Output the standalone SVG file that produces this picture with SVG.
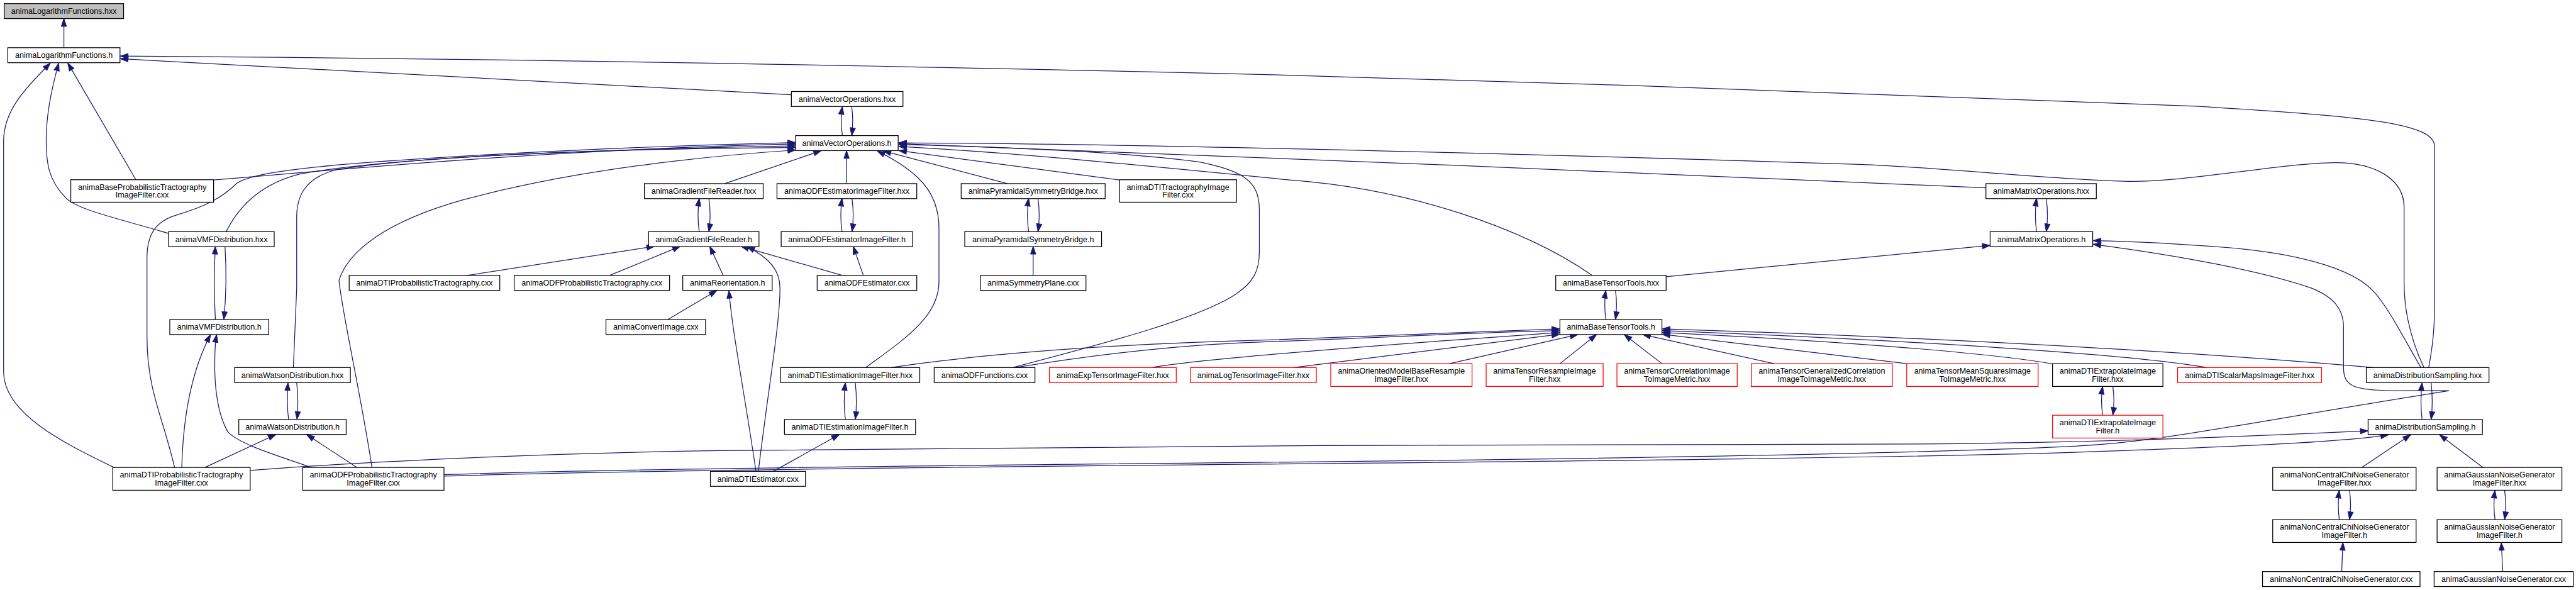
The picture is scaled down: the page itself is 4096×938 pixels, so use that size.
<svg xmlns="http://www.w3.org/2000/svg" width="4096" height="938" viewBox="0 0 4096 938">
<style>
.n rect{fill:#fff;stroke:#000;stroke-width:1.3}
.n.r rect{stroke:#ff0000}
.n.g rect{fill:#bfbfbf}
text{font-family:"Liberation Sans",Arial,Helvetica,sans-serif;font-size:13.2px;text-anchor:middle;fill:#000}
#edges path{fill:none;stroke:#191970;stroke-width:1.3;marker-end:url(#a)}
</style>
<defs>
<marker id="a" markerWidth="13" markerHeight="9" refX="13" refY="4.5" orient="auto" markerUnits="userSpaceOnUse" overflow="visible"><path d="M0,0 L13,4.5 L0,9 z" fill="#191970" stroke="#191970" stroke-width="1"/></marker>
</defs>
<rect width="4096" height="938" fill="#fff"/>
<g transform="scale(0.954)">
<g id="edges">
<path d="M106.5,79.5 L106.5,31"/>
<path d="M1319,158 L200.5,98"/>
<path d="M4048,612.5 C4054,580 4058,550 4058,500 L4058,245 C4058,205 3950,195 3660,177 C3300,160 2600,138 2100,124 C1500,110 800,97 200.5,93.5"/>
<path d="M226.5,299.5 L113,105"/>
<path d="M281,389 C200,365 130,350 110,330 C80,300 77,270 77,233 C77,190 88,140 98,105"/>
<path d="M190,779 C110,740 6,690 6,620 L6,235 C6,180 50,140 84,105"/>
<path d="M1404,226 C1401.5,208 1401.5,195 1404,177.5"/>
<path d="M1419.5,177.5 C1422,195 1422,208 1419.5,226"/>
<path d="M356,300 C700,270 1000,247 1326,240"/>
<path d="M377,386 C400,340 440,305 500,290 C650,262 1000,249 1326,243"/>
<path d="M291,779 C270,690 245,650 245,560 L245,430 C245,390 260,368 295,358 C340,345 370,330 395,305 C420,290 480,283 560,275 C800,255 1100,243 1326,237.5"/>
<path d="M489,612.5 L494.5,480 L494.5,360 C495,320 515,295 560,283 C700,260 1000,248 1326,246"/>
<path d="M620,779 C600,650 570,520 565,467 C580,420 640,370 772,333 C950,285 1150,262 1326,250"/>
<path d="M1208,306 L1369,251"/>
<path d="M1411,306 L1411,251"/>
<path d="M1443,612.5 C1500,570 1565,530 1565,470 L1565,380 C1565,320 1530,285 1462,251.5"/>
<path d="M1679,306 L1472,251.5"/>
<path d="M1866,300 L1498,251"/>
<path d="M1688,612.5 C1850,570 2000,530 2060,490 C2090,470 2099,450 2099,420 L2099,350 C2099,300 2070,285 2000,270 C1850,250 1600,243 1498,241"/>
<path d="M2654,459 C2540,380 2350,315 2150,300 C1950,280 1700,255 1498,244"/>
<path d="M3310,313 C2800,290 2000,258 1498,239.5"/>
<path d="M4040,612.5 C4020,570 4007,520 4007,470 L4007,345 C4007,300 3960,270 3890,271 C3800,272 3640,305 3540,302 C3400,298 3250,280 3100,274 C2500,255 1900,240 1498,238"/>
<path d="M1165.5,386 C1163,370 1163,348 1165.5,330.5"/>
<path d="M1181.5,330.5 C1184,348 1184,370 1181.5,386"/>
<path d="M1403.5,386 C1401,370 1401,348 1403.5,330.5"/>
<path d="M1420,330.5 C1422.5,348 1422.5,370 1420,386"/>
<path d="M1714.5,386 C1712,370 1712,348 1714.5,330.5"/>
<path d="M1730,330.5 C1732.5,348 1732.5,370 1730,386"/>
<path d="M3394.5,386 C3392,370 3392,348 3394.5,330.5"/>
<path d="M3410.5,330.5 C3413,348 3413,370 3410.5,386"/>
<path d="M359,532.5 C356.5,490 356.5,450 359,410.5"/>
<path d="M375,410.5 C377.5,450 377.5,490 373,532.5"/>
<path d="M481,699 C478.5,680 478.5,660 480,637.5"/>
<path d="M494.5,637.5 C497,660 497,680 495,699"/>
<path d="M2676.5,532.5 C2674,515 2674,500 2676.5,484"/>
<path d="M2692.5,484 C2695,500 2695,515 2692.5,532.5"/>
<path d="M1409,699 C1406.5,680 1406.5,660 1409,637.5"/>
<path d="M1425.5,637.5 C1428,660 1428,680 1425.5,699"/>
<path d="M3504.5,692 C3502,675 3502,660 3504.5,644"/>
<path d="M3521.5,644 C3524,660 3524,675 3521.5,692"/>
<path d="M4037,699 C4034.5,680 4034.5,660 4037,637.5"/>
<path d="M4052,637.5 C4054.5,660 4054.5,680 4052,699"/>
<path d="M3899,866 C3896.5,848 3896.5,835 3899,817"/>
<path d="M3916,817 C3918.5,835 3918.5,848 3916,866"/>
<path d="M4158.5,866 C4156,848 4156,835 4158.5,817"/>
<path d="M4174.5,817 C4177,835 4177,848 4174.5,866"/>
<path d="M3903,952.5 L3905,904"/>
<path d="M4171.5,952.5 L4169,904"/>
<path d="M3936.5,779 L4018,724.5"/>
<path d="M4138.5,779 L4066,724.5"/>
<path d="M2777,461 L3317,409"/>
<path d="M4035,612.5 C4010,570 3985,520 3960,490 C3920,440 3800,420 3718,413 C3620,405 3540,402 3488.5,401"/>
<path d="M740,791 C1000,782 1500,776.5 2100,770.5 C2700,764.5 3200,755 3450,744 C3600,737 3700,712 4082,651 C3990,651 3940,653 3920,642 C3908,635 3906,625 3906,610 L3906,545 C3906,515 3890,495 3852,480 C3780,455 3650,428 3488.5,407"/>
<path d="M740,793.5 C1000,785 1500,779.5 2100,773.5 C2700,768 3200,762 3450,754 C3700,745 3900,738 3981,724.5"/>
<path d="M417,784 C600,770 900,755 1200,751 C1800,742 2600,741 3200,740 C3500,738 3800,725 3947,718"/>
<path d="M778.5,459 L1091,410.5"/>
<path d="M1016,459 L1134,410.5"/>
<path d="M1205.5,459 L1183,410.5"/>
<path d="M1404,459 L1235,410.5"/>
<path d="M1439,459 L1422,410.5"/>
<path d="M1264,785.5 C1280,650 1300,540 1300,480 C1300,450 1282,430 1245,410.5"/>
<path d="M1260,785.5 C1240,650 1220,550 1215,484"/>
<path d="M1113,532.5 L1195,484"/>
<path d="M1289,785.5 L1399,724"/>
<path d="M1722,459 L1722,410.5"/>
<path d="M303,779 C305,700 318,620 351,557.5"/>
<path d="M516,778 C450,755 400,740 380,720 C362,690 357,640 358,600 C358,580 359,570 361,557.5"/>
<path d="M341.5,779 L460,724"/>
<path d="M595,779 L511,724"/>
<path d="M1485,612.5 C1600,595 1800,575 2100,567 C2300,560 2450,553 2599.5,548"/>
<path d="M1692,612.5 C1800,595 1950,575 2100,570 C2300,563 2450,554 2599.5,551"/>
<path d="M1920,612.5 C2000,598 2300,575 2599.5,554"/>
<path d="M2156,612.5 L2599.5,557"/>
<path d="M2416,606 L2630,557.5"/>
<path d="M2600,606 L2661,557.5"/>
<path d="M2770,606 L2707,557.5"/>
<path d="M2957,606 L2738,557.5"/>
<path d="M3178,606 L2770.5,557"/>
<path d="M3421,606.5 C3300,585 3000,565 2770.5,554"/>
<path d="M3678,612.5 C3550,590 3200,568 2770.5,551"/>
<path d="M3956,612.5 C3700,590 3300,565 2770.5,548"/>
</g>
<g id="n_LogHxx" class="n g"><rect x="7" y="6" width="199" height="25"/><text x="106.5" y="23.1">animaLogarithmFunctions.hxx</text></g>
<g id="n_LogH" class="n"><rect x="13" y="79.5" width="187" height="25"/><text x="106.5" y="96.6">animaLogarithmFunctions.h</text></g>
<g id="n_VecHxx" class="n"><rect x="1319" y="152.5" width="186" height="25"/><text x="1412" y="169.6">animaVectorOperations.hxx</text></g>
<g id="n_VecH" class="n"><rect x="1326" y="226" width="171" height="25"/><text x="1411.5" y="243.1">animaVectorOperations.h</text></g>
<g id="n_BaseProb" class="n"><rect x="118" y="299.5" width="238" height="37.5"/><text x="237" y="316.4">animaBaseProbabilisticTractography</text><text x="237" y="329.4">ImageFilter.cxx</text></g>
<g id="n_GradHxx" class="n"><rect x="1074" y="306" width="198" height="25"/><text x="1173" y="323.1">animaGradientFileReader.hxx</text></g>
<g id="n_ODFEstHxx" class="n"><rect x="1295" y="306" width="233" height="25"/><text x="1411.5" y="323.1">animaODFEstimatorImageFilter.hxx</text></g>
<g id="n_PyrHxx" class="n"><rect x="1602" y="306" width="240" height="25"/><text x="1722" y="323.1">animaPyramidalSymmetryBridge.hxx</text></g>
<g id="n_DTITract" class="n"><rect x="1866" y="299.5" width="195" height="37.5"/><text x="1963.5" y="316.4">animaDTITractographyImage</text><text x="1963.5" y="329.4">Filter.cxx</text></g>
<g id="n_MatHxx" class="n"><rect x="3310" y="306" width="184" height="25"/><text x="3402" y="323.1">animaMatrixOperations.hxx</text></g>
<g id="n_VMFHxx" class="n"><rect x="281" y="386" width="176" height="25"/><text x="369" y="403.1">animaVMFDistribution.hxx</text></g>
<g id="n_GradH" class="n"><rect x="1081" y="386" width="184" height="25"/><text x="1173" y="403.1">animaGradientFileReader.h</text></g>
<g id="n_ODFEstH" class="n"><rect x="1302" y="386" width="219" height="25"/><text x="1411.5" y="403.1">animaODFEstimatorImageFilter.h</text></g>
<g id="n_PyrH" class="n"><rect x="1608" y="386" width="228" height="25"/><text x="1722" y="403.1">animaPyramidalSymmetryBridge.h</text></g>
<g id="n_MatH" class="n"><rect x="3317" y="386" width="171" height="25"/><text x="3402.5" y="403.1">animaMatrixOperations.h</text></g>
<g id="n_DTIProbCxx" class="n"><rect x="582" y="459" width="251" height="25"/><text x="707.5" y="476.1">animaDTIProbabilisticTractography.cxx</text></g>
<g id="n_ODFProbCxx" class="n"><rect x="857" y="459" width="259" height="25"/><text x="986.5" y="476.1">animaODFProbabilisticTractography.cxx</text></g>
<g id="n_Reor" class="n"><rect x="1138" y="459" width="149" height="25"/><text x="1212.5" y="476.1">animaReorientation.h</text></g>
<g id="n_ODFEstCxx" class="n"><rect x="1362" y="459" width="166" height="25"/><text x="1445" y="476.1">animaODFEstimator.cxx</text></g>
<g id="n_SymPlane" class="n"><rect x="1634" y="459" width="176" height="25"/><text x="1722" y="476.1">animaSymmetryPlane.cxx</text></g>
<g id="n_BTTHxx" class="n"><rect x="2593" y="459" width="184" height="25"/><text x="2685" y="476.1">animaBaseTensorTools.hxx</text></g>
<g id="n_VMFH" class="n"><rect x="283" y="532.5" width="165" height="25"/><text x="365.5" y="549.6">animaVMFDistribution.h</text></g>
<g id="n_Convert" class="n"><rect x="1010" y="532.5" width="166" height="25"/><text x="1093" y="549.6">animaConvertImage.cxx</text></g>
<g id="n_BTTH" class="n"><rect x="2600" y="532.5" width="170" height="25"/><text x="2685" y="549.6">animaBaseTensorTools.h</text></g>
<g id="n_WatHxx" class="n"><rect x="391" y="612.5" width="193" height="25"/><text x="487.5" y="629.6">animaWatsonDistribution.hxx</text></g>
<g id="n_DTIEstHxx" class="n"><rect x="1301" y="612.5" width="232" height="25"/><text x="1417" y="629.6">animaDTIEstimationImageFilter.hxx</text></g>
<g id="n_ODFFunc" class="n"><rect x="1557" y="612.5" width="168" height="25"/><text x="1641" y="629.6">animaODFFunctions.cxx</text></g>
<g id="n_Exp" class="n r"><rect x="1749" y="612.5" width="211.5" height="25"/><text x="1854.7" y="629.6">animaExpTensorImageFilter.hxx</text></g>
<g id="n_Log" class="n r"><rect x="1984" y="612.5" width="210" height="25"/><text x="2089" y="629.6">animaLogTensorImageFilter.hxx</text></g>
<g id="n_Oriented" class="n r"><rect x="2218" y="606" width="235.5" height="38"/><text x="2335.7" y="623.1">animaOrientedModelBaseResample</text><text x="2335.7" y="636.1">ImageFilter.hxx</text></g>
<g id="n_TensRes" class="n r"><rect x="2477" y="606" width="195" height="38"/><text x="2574.5" y="623.1">animaTensorResampleImage</text><text x="2574.5" y="636.1">Filter.hxx</text></g>
<g id="n_TensCorr" class="n r"><rect x="2695" y="606" width="200.5" height="38"/><text x="2795.2" y="623.1">animaTensorCorrelationImage</text><text x="2795.2" y="636.1">ToImageMetric.hxx</text></g>
<g id="n_TensGen" class="n r"><rect x="2919" y="606" width="235" height="38"/><text x="3036.5" y="623.1">animaTensorGeneralizedCorrelation</text><text x="3036.5" y="636.1">ImageToImageMetric.hxx</text></g>
<g id="n_TensMS" class="n r"><rect x="3178" y="606" width="219" height="38"/><text x="3287.5" y="623.1">animaTensorMeanSquaresImage</text><text x="3287.5" y="636.1">ToImageMetric.hxx</text></g>
<g id="n_DTIExtHxx" class="n"><rect x="3421" y="606" width="184" height="38"/><text x="3513" y="623.1">animaDTIExtrapolateImage</text><text x="3513" y="636.1">Filter.hxx</text></g>
<g id="n_DTIScalar" class="n r"><rect x="3629.5" y="612.5" width="240" height="25"/><text x="3749.5" y="629.6">animaDTIScalarMapsImageFilter.hxx</text></g>
<g id="n_DistHxx" class="n"><rect x="3944" y="612.5" width="204.5" height="25"/><text x="4046.2" y="629.6">animaDistributionSampling.hxx</text></g>
<g id="n_WatH" class="n"><rect x="398" y="699" width="179" height="25"/><text x="487.5" y="716.1">animaWatsonDistribution.h</text></g>
<g id="n_DTIEstH" class="n"><rect x="1307.5" y="699" width="218.5" height="25"/><text x="1416.7" y="716.1">animaDTIEstimationImageFilter.h</text></g>
<g id="n_DTIExtH" class="n r"><rect x="3421" y="692" width="184" height="38"/><text x="3513" y="709.1">animaDTIExtrapolateImage</text><text x="3513" y="722.1">Filter.h</text></g>
<g id="n_DistH" class="n"><rect x="3947" y="699" width="190.5" height="25"/><text x="4042.2" y="716.1">animaDistributionSampling.h</text></g>
<g id="n_DTIProbIF" class="n"><rect x="188" y="779" width="229" height="38"/><text x="302.5" y="796.1">animaDTIProbabilisticTractography</text><text x="302.5" y="809.1">ImageFilter.cxx</text></g>
<g id="n_ODFProbIF" class="n"><rect x="504.5" y="779" width="235.5" height="38"/><text x="622.2" y="796.1">animaODFProbabilisticTractography</text><text x="622.2" y="809.1">ImageFilter.cxx</text></g>
<g id="n_DTIEstCxx" class="n"><rect x="1184" y="785.5" width="158.5" height="25"/><text x="1263.2" y="802.6">animaDTIEstimator.cxx</text></g>
<g id="n_NCCHxx" class="n"><rect x="3788" y="779" width="239" height="38"/><text x="3907.5" y="796.1">animaNonCentralChiNoiseGenerator</text><text x="3907.5" y="809.1">ImageFilter.hxx</text></g>
<g id="n_GaussHxx" class="n"><rect x="4062" y="779" width="208" height="38"/><text x="4166" y="796.1">animaGaussianNoiseGenerator</text><text x="4166" y="809.1">ImageFilter.hxx</text></g>
<g id="n_NCCH" class="n"><rect x="3788" y="866" width="239" height="38"/><text x="3907.5" y="883.1">animaNonCentralChiNoiseGenerator</text><text x="3907.5" y="896.1">ImageFilter.h</text></g>
<g id="n_GaussH" class="n"><rect x="4062" y="866" width="208" height="38"/><text x="4166" y="883.1">animaGaussianNoiseGenerator</text><text x="4166" y="896.1">ImageFilter.h</text></g>
<g id="n_NCCCxx" class="n"><rect x="3771" y="952.5" width="262.5" height="25"/><text x="3902.2" y="969.6">animaNonCentralChiNoiseGenerator.cxx</text></g>
<g id="n_GaussCxx" class="n"><rect x="4057" y="952.5" width="232" height="25"/><text x="4173" y="969.6">animaGaussianNoiseGenerator.cxx</text></g>
</g>
</svg>
